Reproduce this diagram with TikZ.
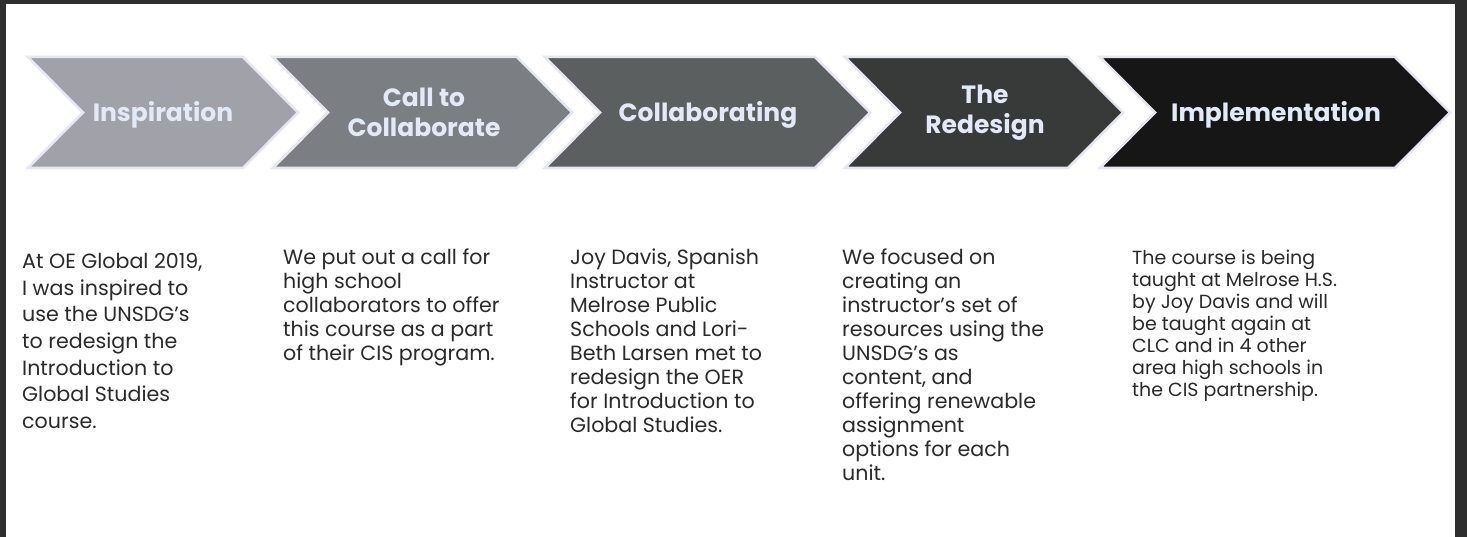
\documentclass[tikz,border=0pt]{standalone}
\usepackage{fontspec}
\setmainfont{Poppins}
\definecolor{frame}{HTML}{2E2E2E}
\definecolor{edge}{HTML}{E6E6F2}
\definecolor{cA}{HTML}{A1A1A9}
\definecolor{cB}{HTML}{7B7F83}
\definecolor{cC}{HTML}{5B5F5F}
\definecolor{cD}{HTML}{383A3A}
\definecolor{cE}{HTML}{161616}
\definecolor{titletext}{HTML}{E2EAF8}
\definecolor{bodytext}{HTML}{2A2A2A}
\tikzset{
  chevshape/.style={draw=edge, line width=2.5pt, line join=miter},
  chevtitle/.style={text=titletext, font=\fontsize{25}{30}\selectfont\bfseries, align=center, inner sep=0pt},
  bodybox/.style={text=bodytext, font=\fontsize{20.6}{24}\selectfont, align=left, anchor=north west, inner sep=0pt},
}
\newcommand\chevpath[2]{(#1,57) -- (#2,57) -- (#2+55,112.5) -- (#2,168) -- (#1,168) -- (#1+55,112.5) -- cycle}
\begin{document}
\begin{tikzpicture}[x=1pt,y=-1pt]
\useasboundingbox (0,0) rectangle (1467,537);
\fill[frame] (0,0) rectangle (1467,537);
\fill[white] (6,4) rectangle (1455,537);
% chevrons
\filldraw[chevshape, fill=cA] \chevpath{28}{243};
\filldraw[chevshape, fill=cB] \chevpath{273}{517};
\filldraw[chevshape, fill=cC] \chevpath{545}{815};
\filldraw[chevshape, fill=cD] \chevpath{845}{1068};
\filldraw[chevshape, fill=cE] \chevpath{1100}{1395};
% titles
\node[chevtitle] (t1) at (163,115) {Inspiration};
\node[chevtitle] (t2) at (424,112.5) {Call to\\Collaborate};
\node[chevtitle] (t3) at (708,115) {Collaborating};
\node[chevtitle] (t4) at (985,112.5) {The\\Redesign};
\node[chevtitle] (t5) at (1276,115) {Implementation};
% body texts
\node[bodybox, font=\fontsize{20.6}{26.7}\selectfont] (b1) at (22,253) {At OE Global 2019,\\I was inspired to\\use the UNSDG's\\to redesign the\\Introduction to\\Global Studies\\course.};
\node[bodybox] (b2) at (283,249) {We put out a call for\\high school\\collaborators to offer\\this course as a part\\of their CIS program.};
\node[bodybox] (b3) at (570,249) {Joy Davis, Spanish\\Instructor at\\Melrose Public\\Schools and Lori-\\Beth Larsen met to\\redesign the OER\\for Introduction to\\Global Studies.};
\node[bodybox] (b4) at (842,249) {We focused on\\creating an\\instructor's set of\\resources using the\\UNSDG's as\\content, and\\offering renewable\\assignment\\options for each\\unit.};
\node[bodybox, font=\fontsize{19}{22}\selectfont] (b5) at (1132,250) {The course is being\\taught at Melrose H.S.\\by Joy Davis and will\\be taught again at\\CLC and in 4 other\\area high schools in\\the CIS partnership.};
\end{tikzpicture}
\end{document}
